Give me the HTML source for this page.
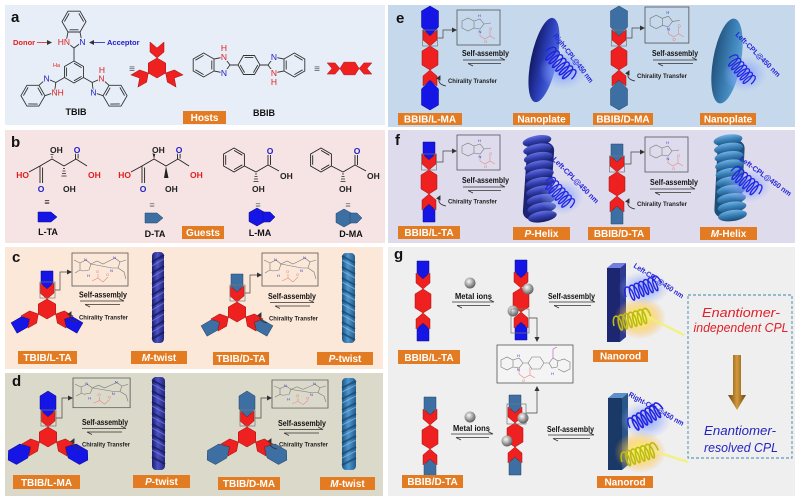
<!DOCTYPE html>
<html><head><meta charset="utf-8">
<style>
html,body{margin:0;padding:0;background:#fff;}
svg{display:block;}
text{font-family:"Liberation Sans",Arial,sans-serif;}
.lb{font-weight:bold;font-size:10px;fill:#fff;}
.sa{font-weight:bold;font-size:8px;fill:#111;}
.ct{font-weight:bold;font-size:6.4px;fill:#222;}
.cpl{font-size:7.4px;font-weight:bold;fill:#2424dc;font-style:normal;}
</style></head><body>
<svg width="800" height="497" viewBox="0 0 800 497" xmlns="http://www.w3.org/2000/svg">
<defs>
<linearGradient id="gNavy" x1="0" x2="1"><stop offset="0" stop-color="#121a66"/><stop offset=".55" stop-color="#2c40bc"/><stop offset="1" stop-color="#4d6ade"/></linearGradient>
<linearGradient id="gSteelP" x1="0" x2="1"><stop offset="0" stop-color="#22537d"/><stop offset=".6" stop-color="#3d82b8"/><stop offset="1" stop-color="#5aa0d2"/></linearGradient>
<linearGradient id="rodN" x1="0" x2="1"><stop offset="0" stop-color="#1c1f70"/><stop offset=".45" stop-color="#4c52c4"/><stop offset="1" stop-color="#22277a"/></linearGradient>
<linearGradient id="rodS" x1="0" x2="1"><stop offset="0" stop-color="#1f5683"/><stop offset=".45" stop-color="#4e97cf"/><stop offset="1" stop-color="#235d8c"/></linearGradient>
<linearGradient id="ribN" x1="0" y1="0" x2="0" y2="1"><stop offset="0" stop-color="#6872e2"/><stop offset=".45" stop-color="#3340b0"/><stop offset="1" stop-color="#141a5e"/></linearGradient>
<linearGradient id="ribS" x1="0" y1="0" x2="0" y2="1"><stop offset="0" stop-color="#74b4e4"/><stop offset=".45" stop-color="#3a82ba"/><stop offset="1" stop-color="#184a74"/></linearGradient>
<radialGradient id="glowB"><stop offset="0" stop-color="#6f8cff" stop-opacity=".85"/><stop offset=".55" stop-color="#8aa4ff" stop-opacity=".45"/><stop offset="1" stop-color="#a0b4ff" stop-opacity="0"/></radialGradient>
<radialGradient id="glowY"><stop offset="0" stop-color="#f6ff60" stop-opacity=".95"/><stop offset=".5" stop-color="#ffd040" stop-opacity=".6"/><stop offset="1" stop-color="#ffa020" stop-opacity="0"/></radialGradient>
<radialGradient id="sph" cx=".4" cy=".35" r=".65"><stop offset="0" stop-color="#fafafa"/><stop offset=".45" stop-color="#b4b4b4"/><stop offset="1" stop-color="#5e5e5e"/></radialGradient>
<linearGradient id="brown" x1="0" x2="1"><stop offset="0" stop-color="#6d4310"/><stop offset=".5" stop-color="#d29a3a"/><stop offset="1" stop-color="#6d4310"/></linearGradient>
<marker id="ah" markerWidth="5" markerHeight="5" refX="4" refY="2.5" orient="auto" markerUnits="userSpaceOnUse"><path d="M0,0 L5,2.5 L0,5 Z" fill="#333"/></marker>
<path id="coil" fill="none" d="M0,0 a4,9 0 0 1 8,0 a1.5,6 0 0 1 -3,0 a4,9 0 0 1 8,0 a1.5,6 0 0 1 -3,0 a4,9 0 0 1 8,0 a1.5,6 0 0 1 -3,0 a4,9 0 0 1 8,0 a1.5,6 0 0 1 -3,0 a4,9 0 0 1 8,0 a1.5,6 0 0 1 -3,0 a4,9 0 0 1 8,0 a1.5,6 0 0 1 -3,0 a4,9 0 0 1 8,0"/>
<polygon id="chev" points="-7,-16 0,-10 7,-16 7,-6 0,0 -7,-6"/>
<polygon id="gTA" points="-6,-28 6,-28 6,-16 0,-10 -6,-16"/>
<polygon id="gMA" points="0,-40 8.5,-35 8.5,-19 0,-10 -8.5,-19 -8.5,-35"/>
<polygon id="gMAs" points="0,-36 8,-31 8,-18 0,-10 -8,-18 -8,-31"/>
<polygon id="hexV" points="0,-12 8,-7 8,7 0,12 -8,7 -8,-7"/>
<polygon id="hexR" points="0,-10 8.7,-5 8.7,5 0,10 -8.7,5 -8.7,-5"/>
<g id="bzi" fill="none" stroke="#333" stroke-width=".9">
<path d="M0,0 L-8,-6 L-6,-16 L6,-16 L8,-6 Z M-6,-16 L-12,-26.4 L-6,-36.8 L6,-36.8 L12,-26.4 L6,-16 M-9.6,-26.4 L-4.8,-34.6 M4.8,-34.6 L9.6,-26.4 M-4.5,-18.2 L4.5,-18.2"/>
</g>
<g id="hbox">
<rect x="0" y="0" width="56" height="33" fill="none" stroke="#555" stroke-width=".8"/>
<g stroke="#777" stroke-width=".6" fill="none">
<path d="M2,7 L8,10 L8,17 L3,20 M8,10 L14,7 L19,11 L17,17 L11,18 L8,17 M19,11 L25,8 L31,11 L37,8 L43,5 L48,9 L46,15 L40,15 Z M48,9 L54,7 M46,15 L52,19 L54,26"/>
</g>
<g stroke="#e08a8a" stroke-width=".6" fill="none"><path d="M20,28 L26,25 L31,29 L36,24 M26,25 V21"/></g>
<g font-size="4" fill="#3a3ad0"><text x="12" y="8">N</text><text x="41" y="6">N</text><text x="15" y="24">H</text><text x="38" y="19">N</text></g>
<g font-size="4" fill="#e07878"><text x="34" y="23">O</text><text x="24" y="20">O</text></g>
</g>
<g id="ebox">
<rect x="0" y="0" width="43" height="35" fill="none" stroke="#555" stroke-width=".8"/>
<g stroke="#777" stroke-width=".6" fill="none"><path d="M5,11 L11,8 L17,11 L17,18 L11,21 L5,18 Z M17,11 L23,9 L27,14 L23,19 L17,18 M27,14 L34,13"/></g>
<g stroke="#e08a8a" stroke-width=".6" fill="none"><path d="M23,21 V26 L28,29 L33,26 L38,29 M33,26 V20"/></g>
<g font-size="4" fill="#3a3ad0"><text x="21" y="7">H</text><text x="21.5" y="23">N</text></g>
<g font-size="4" fill="#e07878"><text x="27" y="33">O</text><text x="32" y="20">O</text></g>
</g>
</defs>

<!-- panel backgrounds -->
<rect x="5" y="5" width="380" height="120" fill="#e7eef8"/>
<rect x="388" y="5" width="407" height="122" fill="#c6d8eb"/>
<rect x="5" y="130" width="380" height="113" fill="#f6e4e5"/>
<rect x="388" y="130" width="407" height="113" fill="#dedcec"/>
<rect x="5" y="247" width="378" height="122" fill="#fce8d9"/>
<rect x="5" y="373" width="378" height="123" fill="#dbd9c9"/>
<rect x="388" y="247" width="407" height="249" fill="#efefef"/>

<!-- panel letters -->
<g font-weight="bold" font-size="15" fill="#111">
<text x="11" y="22">a</text><text x="11" y="147">b</text><text x="12" y="262">c</text><text x="12" y="386">d</text>
<text x="396" y="23">e</text><text x="395" y="145">f</text><text x="394" y="259">g</text>
</g>

<!-- ============ PANEL A ============ -->
<g>
<path d="M74,61 L83.5,66.5 L83.5,77.5 L74,83 L64.5,77.5 L64.5,66.5 Z M74,63.2 L81.6,67.6 M81.6,76.4 L74,80.8 M66.4,76.4 L66.4,67.6 M74,61 V48 M64.5,77.5 L55.8,82.5 M83.5,77.5 L92.2,82.5" fill="none" stroke="#333" stroke-width=".9"/>
<use href="#bzi" transform="translate(74,48)"/>
<use href="#bzi" transform="translate(55.8,82.5) rotate(-120)"/>
<use href="#bzi" transform="translate(92.2,82.5) rotate(120)"/>
<g font-size="8.5" stroke="#e7eef8" stroke-width="2" paint-order="stroke">
<text x="70" y="45" text-anchor="end" fill="#e02020">HN</text>
<text x="82.5" y="45" text-anchor="middle" fill="#2020c8">N</text>
<text x="46.6" y="81.5" text-anchor="middle" fill="#2020c8">N</text>
<text x="51.5" y="95.5" fill="#e02020">NH</text>
<text x="101.4" y="81.5" text-anchor="middle" fill="#e02020">N</text>
<text x="102" y="73" text-anchor="middle" fill="#e02020">H</text>
<text x="93.4" y="95.5" text-anchor="middle" fill="#2020c8">N</text>
</g>
<text x="53" y="67" font-size="5.5" fill="#e02020">Ha</text>
<text x="13" y="45" font-size="7.5" font-weight="bold" fill="#e02020">Donor</text>
<path d="M37,42.5 H51" stroke="#e02020" stroke-width=".8" marker-end="url(#ah)"/>
<path d="M105,42.5 H90" stroke="#2020c8" stroke-width=".8" marker-end="url(#ah)"/>
<text x="107" y="45" font-size="7.5" font-weight="bold" fill="#2020c8">Acceptor</text>
<text x="76" y="115" font-size="9" font-weight="bold" text-anchor="middle" fill="#111">TBIB</text>
<text x="132" y="72" font-size="10" fill="#555" text-anchor="middle">≡</text>
<g transform="translate(157,68)" fill="#ee2020" stroke="#a01010" stroke-width=".5">
<use href="#hexR"/>
<use href="#chev" transform="translate(0,-10)"/>
<use href="#chev" transform="rotate(120) translate(0,-10)"/>
<use href="#chev" transform="rotate(-120) translate(0,-10)"/>
</g>
<!-- BBIB -->
<path d="M238,65 L243.5,55.5 L254.5,55.5 L260,65 L254.5,74.5 L243.5,74.5 Z M244.6,57.4 L253.4,57.4 M257.8,65 L253.4,72.6 M244.6,72.6 L240.2,65 M230,65 H238 M260,65 H268" fill="none" stroke="#333" stroke-width=".9"/>
<use href="#bzi" transform="translate(230,65) rotate(-90)"/>
<use href="#bzi" transform="translate(268,65) rotate(90)"/>
<g font-size="8.5" stroke="#e7eef8" stroke-width="2" paint-order="stroke" text-anchor="middle">
<text x="224" y="60" fill="#e02020">N</text>
<text x="224" y="51" fill="#e02020">H</text>
<text x="224" y="76" fill="#2020c8">N</text>
<text x="274" y="60" fill="#2020c8">N</text>
<text x="274" y="76" fill="#e02020">N</text>
<text x="274" y="85" fill="#e02020">H</text>
</g>
<text x="264" y="116" font-size="9" font-weight="bold" text-anchor="middle" fill="#111">BBIB</text>
<text x="317" y="72" font-size="10" fill="#555" text-anchor="middle">≡</text>
<g transform="translate(349.5,68.5) rotate(90) scale(.8)" fill="#ee2020" stroke="#a01010" stroke-width=".5">
<use href="#hexV"/>
<use href="#chev" transform="translate(0,-12)"/>
<use href="#chev" transform="translate(0,12) rotate(180)"/>
</g>
<rect x="183" y="111" width="43" height="13" fill="#e37b22"/><text x="204.5" y="121.2" text-anchor="middle" class="lb">Hosts</text>
</g>

<!-- ============ PANEL B ============ -->
<g id="lta">
<path d="M29,172 L40,166 L52,159 L64,166 L76,159 L87,166 M40,166 V183 M42.6,167.5 V183 M75.5,159 V150 M78.1,158.5 V150" fill="none" stroke="#222" stroke-width=".9"/>
<path d="M51,157 h2 M50.5,154.5 h3 M50,152 h4 M63,168.5 h2 M62.5,171 h3 M62,173.5 h4 M61.5,176 h5" stroke="#222" stroke-width=".8"/>
<g font-size="8.5" font-weight="bold" stroke="#f6e4e5" stroke-width="2" paint-order="stroke">
<text x="50" y="153" fill="#222">OH</text>
<text x="77" y="153" text-anchor="middle" fill="#2020c8">O</text>
<text x="29" y="178" text-anchor="end" fill="#e02020">HO</text>
<text x="88" y="178" fill="#e02020">OH</text>
<text x="41" y="192" text-anchor="middle" fill="#2020c8">O</text>
<text x="63" y="192" fill="#222">OH</text>
</g>
</g>
<g transform="translate(102,0)">
<path d="M29,172 L40,166 L52,159 L64,166 L76,159 L87,166 M40,166 V183 M42.6,167.5 V183 M75.5,159 V150 M78.1,158.5 V150" fill="none" stroke="#222" stroke-width=".9"/>
<path d="M52,159 L50,151 L54,151 Z M64,166 L62,178 L66.5,178 Z" fill="#222"/>
<g font-size="8.5" font-weight="bold" stroke="#f6e4e5" stroke-width="2" paint-order="stroke">
<text x="50" y="153" fill="#222">OH</text>
<text x="77" y="153" text-anchor="middle" fill="#2020c8">O</text>
<text x="29" y="178" text-anchor="end" fill="#e02020">HO</text>
<text x="88" y="178" fill="#e02020">OH</text>
<text x="41" y="192" text-anchor="middle" fill="#2020c8">O</text>
<text x="63" y="192" fill="#222">OH</text>
</g>
</g>
<g id="lma">
<path d="M234,148 L244.4,154 L244.4,166 L234,172 L223.6,166 L223.6,154 Z M234,150.4 L242.3,155.2 M242.3,164.8 L234,169.6 M225.7,164.8 L225.7,155.2 M244.4,166 L256,172 L268,165 L279,171 M268,165 V155 M270.5,165 V155" fill="none" stroke="#222" stroke-width=".9"/>
<path d="M255,174 h2 M254.5,176.5 h3 M254,179 h4 M253.5,181.5 h5" stroke="#222" stroke-width=".8"/>
<g font-size="8.5" font-weight="bold" stroke="#f6e4e5" stroke-width="2" paint-order="stroke">
<text x="270" y="154" text-anchor="middle" fill="#2020c8">O</text>
<text x="280" y="179" fill="#222">OH</text>
<text x="252" y="192" fill="#222">OH</text>
</g>
</g>
<g transform="translate(87,0)">
<path d="M234,148 L244.4,154 L244.4,166 L234,172 L223.6,166 L223.6,154 Z M234,150.4 L242.3,155.2 M242.3,164.8 L234,169.6 M225.7,164.8 L225.7,155.2 M244.4,166 L256,172 L268,165 L279,171 M268,165 V155 M270.5,165 V155" fill="none" stroke="#222" stroke-width=".9"/>
<path d="M255,174 h2 M254.5,176.5 h3 M254,179 h4 M253.5,181.5 h5" stroke="#222" stroke-width=".8"/>
<g font-size="8.5" font-weight="bold" stroke="#f6e4e5" stroke-width="2" paint-order="stroke">
<text x="270" y="154" text-anchor="middle" fill="#2020c8">O</text>
<text x="280" y="179" fill="#222">OH</text>
<text x="252" y="192" fill="#222">OH</text>
</g>
</g>
<g font-size="9" text-anchor="middle">
<text x="47" y="205" fill="#222">≡</text><text x="152" y="208" fill="#777">≡</text><text x="258" y="208" fill="#777">≡</text><text x="348" y="208" fill="#777">≡</text>
</g>
<polygon points="38,212 51,212 57,217 51,222 38,222" fill="#1515e6" stroke="#0a0a8a" stroke-width=".5"/>
<polygon points="145,213 157,213 163,218 157,223 145,223" fill="#3d6fa3" stroke="#22456b" stroke-width=".5"/>
<g fill="#1515e6" stroke="#0a0a8a" stroke-width=".5">
<polygon points="257,208 265,212.5 265,221.5 257,226 249,221.5 249,212.5"/>
<polygon points="263,212 270,212 275,217 270,222 263,222"/>
</g>
<g fill="#3d6fa3" stroke="#22456b" stroke-width=".5">
<polygon points="344,209 352,213.5 352,222.5 344,227 336,222.5 336,213.5"/>
<polygon points="350,213 357,213 362,218 357,223 350,223"/>
</g>
<g font-size="9" font-weight="bold" fill="#111" text-anchor="middle">
<text x="48" y="235">L-TA</text><text x="155" y="237">D-TA</text><text x="260" y="236">L-MA</text><text x="351" y="237">D-MA</text>
</g>
<rect x="182" y="226" width="42" height="13" fill="#e37b22"/><text x="203" y="236.2" text-anchor="middle" class="lb">Guests</text>

<!-- ============ PANEL C ============ -->
<g transform="translate(47,309)" stroke-width=".5">
<g fill="#1515e6" stroke="#0a0a8a">
<use href="#gTA" transform="translate(0,-10)"/><use href="#gTA" transform="rotate(120) translate(0,-10)"/><use href="#gTA" transform="rotate(-120) translate(0,-10)"/>
</g>
<g fill="#ee2020" stroke="#a01010">
<use href="#hexR"/><use href="#chev" transform="translate(0,-10)"/><use href="#chev" transform="rotate(120) translate(0,-10)"/><use href="#chev" transform="rotate(-120) translate(0,-10)"/>
</g>
</g>
<rect x="40" y="282" width="15" height="16" fill="none" stroke="#777" stroke-width=".7"/>
<path d="M55,290 H60 V272 H71" fill="none" stroke="#444" stroke-width=".7" marker-end="url(#ah)"/>
<use href="#hbox" transform="translate(72,253)"/>
<text x="79" y="297.5" class="sa" textLength="48" lengthAdjust="spacingAndGlyphs">Self-assembly</text>
<path d="M80,301 H124 M124,301 l-5,-2.5 M85,304.5 H120 M85,304.5 l5,2.5" stroke="#333" stroke-width=".8" fill="none"/>
<text x="79" y="319.5" class="ct" textLength="49" lengthAdjust="spacingAndGlyphs">Chirality Transfer</text>
<path d="M77,322 Q67,320 71,312" fill="none" stroke="#333" stroke-width=".8" marker-end="url(#ah)"/>
<g transform="translate(152,252)">
<rect width="12" height="91" rx="4" fill="url(#rodN)"/>
<path d="M0,10L12,3 M0,21L12,14 M0,32L12,25 M0,43L12,36 M0,54L12,47 M0,65L12,58 M0,76L12,69 M0,87L12,80" stroke="#161959" stroke-width="2" opacity=".75"/>
<path d="M0,14L12,7 M0,25L12,18 M0,36L12,29 M0,47L12,40 M0,58L12,51 M0,69L12,62 M0,80L12,73" stroke="#8a90f0" stroke-width="1.1" opacity=".55"/>
</g>
<rect x="18" y="351" width="59" height="13" fill="#e37b22"/><text x="47.5" y="361.2" text-anchor="middle" class="lb">TBIB/L-TA</text>
<rect x="131" y="351" width="56" height="13" fill="#e37b22"/><text x="159" y="361.2" text-anchor="middle" class="lb"><tspan font-style="italic">M</tspan>-twist</text>

<g transform="translate(237,312)" stroke-width=".5">
<g fill="#3d6fa3" stroke="#22456b">
<use href="#gTA" transform="translate(0,-10)"/><use href="#gTA" transform="rotate(120) translate(0,-10)"/><use href="#gTA" transform="rotate(-120) translate(0,-10)"/>
</g>
<g fill="#ee2020" stroke="#a01010">
<use href="#hexR"/><use href="#chev" transform="translate(0,-10)"/><use href="#chev" transform="rotate(120) translate(0,-10)"/><use href="#chev" transform="rotate(-120) translate(0,-10)"/>
</g>
</g>
<rect x="230" y="285" width="15" height="16" fill="none" stroke="#777" stroke-width=".7"/>
<path d="M245,293 H250 V275 H261" fill="none" stroke="#444" stroke-width=".7" marker-end="url(#ah)"/>
<use href="#hbox" transform="translate(262,253)"/>
<text x="268" y="299" class="sa" textLength="48" lengthAdjust="spacingAndGlyphs">Self-assembly</text>
<path d="M270,302.5 H314 M314,302.5 l-5,-2.5 M275,306 H310 M275,306 l5,2.5" stroke="#333" stroke-width=".8" fill="none"/>
<text x="269" y="320.5" class="ct" textLength="49" lengthAdjust="spacingAndGlyphs">Chirality Transfer</text>
<path d="M267,323 Q257,321 261,313" fill="none" stroke="#333" stroke-width=".8" marker-end="url(#ah)"/>
<g transform="translate(342,253)">
<rect width="13" height="90" rx="4" fill="url(#rodS)"/>
<path d="M0,3L13,10 M0,14L13,21 M0,25L13,32 M0,36L13,43 M0,47L13,54 M0,58L13,65 M0,69L13,76 M0,80L13,87" stroke="#184468" stroke-width="2" opacity=".7"/>
<path d="M0,7L13,14 M0,18L13,25 M0,29L13,36 M0,40L13,47 M0,51L13,58 M0,62L13,69 M0,73L13,80" stroke="#9ccaf0" stroke-width="1.1" opacity=".55"/>
</g>
<rect x="213" y="352" width="56" height="13" fill="#e37b22"/><text x="241" y="362.2" text-anchor="middle" class="lb">TBIB/D-TA</text>
<rect x="317" y="352" width="56" height="13" fill="#e37b22"/><text x="345" y="362.2" text-anchor="middle" class="lb"><tspan font-style="italic">P</tspan>-twist</text>

<!-- ============ PANEL D ============ -->
<g transform="translate(48,437)" stroke-width=".5">
<g fill="#1515e6" stroke="#0a0a8a">
<use href="#gMAs" transform="translate(0,-10)"/><use href="#gMAs" transform="rotate(120) translate(0,-10)"/><use href="#gMAs" transform="rotate(-120) translate(0,-10)"/>
</g>
<g fill="#ee2020" stroke="#a01010">
<use href="#hexR"/><use href="#chev" transform="translate(0,-10)"/><use href="#chev" transform="rotate(120) translate(0,-10)"/><use href="#chev" transform="rotate(-120) translate(0,-10)"/>
</g>
</g>
<rect x="41" y="410" width="15" height="16" fill="none" stroke="#777" stroke-width=".7"/>
<path d="M56,418 H62 V398 H72" fill="none" stroke="#444" stroke-width=".7" marker-end="url(#ah)"/>
<use href="#hbox" transform="translate(73,378) scale(1.02,.9)"/>
<text x="82" y="425" class="sa" textLength="46" lengthAdjust="spacingAndGlyphs">Self-assembly</text>
<path d="M82,428.5 H126 M126,428.5 l-5,-2.5 M87,432 H122 M87,432 l5,2.5" stroke="#333" stroke-width=".8" fill="none"/>
<text x="82" y="446.5" class="ct" textLength="48" lengthAdjust="spacingAndGlyphs">Chirality Transfer</text>
<path d="M80,449 Q70,447 74,439" fill="none" stroke="#333" stroke-width=".8" marker-end="url(#ah)"/>
<g transform="translate(152,377)">
<rect width="13" height="93" rx="4" fill="url(#rodN)"/>
<path d="M0,3L13,10 M0,14L13,21 M0,25L13,32 M0,36L13,43 M0,47L13,54 M0,58L13,65 M0,69L13,76 M0,80L13,87" stroke="#161959" stroke-width="2" opacity=".75"/>
<path d="M0,7L13,14 M0,18L13,25 M0,29L13,36 M0,40L13,47 M0,51L13,58 M0,62L13,69 M0,73L13,80" stroke="#8a90f0" stroke-width="1.1" opacity=".55"/>
</g>
<rect x="13" y="475" width="67" height="14" fill="#e37b22"/><text x="46.5" y="485.8" text-anchor="middle" class="lb">TBIB/L-MA</text>
<rect x="133" y="475" width="57" height="13" fill="#e37b22"/><text x="161.5" y="485.2" text-anchor="middle" class="lb"><tspan font-style="italic">P</tspan>-twist</text>

<g transform="translate(247,437)" stroke-width=".5">
<g fill="#3d6fa3" stroke="#22456b">
<use href="#gMAs" transform="translate(0,-10)"/><use href="#gMAs" transform="rotate(120) translate(0,-10)"/><use href="#gMAs" transform="rotate(-120) translate(0,-10)"/>
</g>
<g fill="#ee2020" stroke="#a01010">
<use href="#hexR"/><use href="#chev" transform="translate(0,-10)"/><use href="#chev" transform="rotate(120) translate(0,-10)"/><use href="#chev" transform="rotate(-120) translate(0,-10)"/>
</g>
</g>
<rect x="240" y="410" width="15" height="16" fill="none" stroke="#777" stroke-width=".7"/>
<path d="M255,418 H261 V398 H271" fill="none" stroke="#444" stroke-width=".7" marker-end="url(#ah)"/>
<use href="#hbox" transform="translate(272,380) scale(1,.85)"/>
<text x="278" y="426" class="sa" textLength="48" lengthAdjust="spacingAndGlyphs">Self-assembly</text>
<path d="M279,429.5 H323 M323,429.5 l-5,-2.5 M284,433 H319 M284,433 l5,2.5" stroke="#333" stroke-width=".8" fill="none"/>
<text x="279" y="446.5" class="ct" textLength="49" lengthAdjust="spacingAndGlyphs">Chirality Transfer</text>
<path d="M277,449 Q267,447 271,439" fill="none" stroke="#333" stroke-width=".8" marker-end="url(#ah)"/>
<g transform="translate(342,378)">
<rect width="14" height="92" rx="4" fill="url(#rodS)"/>
<path d="M0,10L14,3 M0,21L14,14 M0,32L14,25 M0,43L14,36 M0,54L14,47 M0,65L14,58 M0,76L14,69 M0,87L14,80" stroke="#184468" stroke-width="2" opacity=".7"/>
<path d="M0,14L14,7 M0,25L14,18 M0,36L14,29 M0,47L14,40 M0,58L14,51 M0,69L14,62 M0,80L14,73" stroke="#9ccaf0" stroke-width="1.1" opacity=".55"/>
</g>
<rect x="218" y="477" width="62" height="13" fill="#e37b22"/><text x="249" y="487.2" text-anchor="middle" class="lb">TBIB/D-MA</text>
<rect x="320" y="477" width="55" height="13" fill="#e37b22"/><text x="347.5" y="487.2" text-anchor="middle" class="lb"><tspan font-style="italic">M</tspan>-twist</text>

<!-- ============ PANEL E ============ -->
<g transform="translate(430,58)" stroke-width=".5">
<g fill="#1515e6" stroke="#0a0a8a"><use href="#gMA" transform="translate(0,-12)"/><use href="#gMA" transform="translate(0,12) rotate(180)"/></g>
<g fill="#ee2020" stroke="#a01010"><use href="#hexV"/><use href="#chev" transform="translate(0,-12)"/><use href="#chev" transform="translate(0,12) rotate(180)"/></g>
</g>
<rect x="422.5" y="30" width="15" height="16" fill="none" stroke="#777" stroke-width=".7"/>
<path d="M437.5,38 H443 V30 H456" fill="none" stroke="#444" stroke-width=".7" marker-end="url(#ah)"/>
<use href="#ebox" transform="translate(457,10)"/>
<text x="462" y="56" class="sa" textLength="47" lengthAdjust="spacingAndGlyphs">Self-assembly</text>
<path d="M463,60 H505 M505,60 l-5,-2.5 M468,63.5 H501 M468,63.5 l5,2.5" stroke="#333" stroke-width=".8" fill="none"/>
<text x="448" y="83" class="ct" textLength="49" lengthAdjust="spacingAndGlyphs">Chirality Transfer</text>
<path d="M446,86 Q436,84 440,76" fill="none" stroke="#333" stroke-width=".8" marker-end="url(#ah)"/>
<ellipse cx="544" cy="60" rx="13" ry="43" transform="rotate(12 544 60)" fill="url(#gNavy)"/>
<ellipse cx="563" cy="70" rx="24" ry="20" fill="url(#glowB)"/>
<use href="#coil" transform="translate(546,51) rotate(48)" stroke="#2222dd" stroke-width="1.4"/>
<text transform="translate(553,36) rotate(52)" class="cpl" textLength="60" lengthAdjust="spacingAndGlyphs">Right-CPL@450 nm</text>
<rect x="398" y="113" width="64" height="12" fill="#e37b22"/><text x="430" y="122.7" text-anchor="middle" class="lb">BBIB/L-MA</text>
<rect x="513" y="113" width="57" height="12" fill="#e37b22"/><text x="541.5" y="122.7" text-anchor="middle" class="lb">Nanoplate</text>

<g transform="translate(619,58)" stroke-width=".5">
<g fill="#3d6fa3" stroke="#22456b"><use href="#gMA" transform="translate(0,-12)"/><use href="#gMA" transform="translate(0,12) rotate(180)"/></g>
<g fill="#ee2020" stroke="#a01010"><use href="#hexV"/><use href="#chev" transform="translate(0,-12)"/><use href="#chev" transform="translate(0,12) rotate(180)"/></g>
</g>
<rect x="611.5" y="30" width="15" height="16" fill="none" stroke="#777" stroke-width=".7"/>
<path d="M626.5,38 H632 V28 H644" fill="none" stroke="#444" stroke-width=".7" marker-end="url(#ah)"/>
<use href="#ebox" transform="translate(645,7) scale(1.02,1.03)"/>
<text x="652" y="56" class="sa" textLength="46" lengthAdjust="spacingAndGlyphs">Self-assembly</text>
<path d="M653,60 H697 M697,60 l-5,-2.5 M658,63.5 H693 M658,63.5 l5,2.5" stroke="#333" stroke-width=".8" fill="none"/>
<text x="637" y="78" class="ct" textLength="50" lengthAdjust="spacingAndGlyphs">Chirality Transfer</text>
<path d="M635,81 Q625,79 629,71" fill="none" stroke="#333" stroke-width=".8" marker-end="url(#ah)"/>
<ellipse cx="727" cy="61" rx="14" ry="43" transform="rotate(10 727 61)" fill="url(#gSteelP)"/>
<ellipse cx="745" cy="74" rx="22" ry="18" fill="url(#glowB)"/>
<use href="#coil" transform="translate(729,58) rotate(50) scale(.9)" stroke="#2626e0" stroke-width="1.4"/>
<text transform="translate(735,35) rotate(45)" class="cpl" textLength="60" lengthAdjust="spacingAndGlyphs">Left-CPL@450 nm</text>
<rect x="593" y="113" width="60" height="12" fill="#e37b22"/><text x="623" y="122.7" text-anchor="middle" class="lb">BBIB/D-MA</text>
<rect x="700" y="113" width="56" height="12" fill="#e37b22"/><text x="728" y="122.7" text-anchor="middle" class="lb">Nanoplate</text>

<!-- ============ PANEL F ============ -->
<g transform="translate(429,182)" stroke-width=".5">
<g fill="#1515e6" stroke="#0a0a8a"><use href="#gTA" transform="translate(0,-12)"/><use href="#gTA" transform="translate(0,12) rotate(180)"/></g>
<g fill="#ee2020" stroke="#a01010"><use href="#hexV"/><use href="#chev" transform="translate(0,-12)"/><use href="#chev" transform="translate(0,12) rotate(180)"/></g>
</g>
<rect x="421.5" y="154" width="15" height="16" fill="none" stroke="#777" stroke-width=".7"/>
<path d="M436.5,162 H443 V151 H456" fill="none" stroke="#444" stroke-width=".7" marker-end="url(#ah)"/>
<use href="#ebox" transform="translate(457,135)"/>
<text x="462" y="183" class="sa" textLength="47" lengthAdjust="spacingAndGlyphs">Self-assembly</text>
<path d="M463,187 H505 M505,187 l-5,-2.5 M468,190.5 H501 M468,190.5 l5,2.5" stroke="#333" stroke-width=".8" fill="none"/>
<text x="448" y="203.5" class="ct" textLength="49" lengthAdjust="spacingAndGlyphs">Chirality Transfer</text>
<path d="M446,206 Q436,204 440,196" fill="none" stroke="#333" stroke-width=".8" marker-end="url(#ah)"/>
<rect x="525" y="142" width="27" height="78" rx="8" fill="#1c2374" transform="rotate(4 538 181)"/>
<g fill="url(#ribN)">
<ellipse cx="537" cy="141" rx="14.5" ry="5.5" transform="rotate(-10 537 141)"/>
<ellipse cx="537.6" cy="149.4" rx="14.5" ry="5.5" transform="rotate(-10 537.6 149.4)"/>
<ellipse cx="538.2" cy="157.8" rx="14.5" ry="5.5" transform="rotate(-10 538.2 157.8)"/>
<ellipse cx="538.8" cy="166.2" rx="14.5" ry="5.5" transform="rotate(-10 538.8 166.2)"/>
<ellipse cx="539.4" cy="174.6" rx="14.5" ry="5.5" transform="rotate(-10 539.4 174.6)"/>
<ellipse cx="540" cy="183" rx="14.5" ry="5.5" transform="rotate(-10 540 183)"/>
<ellipse cx="540.6" cy="191.4" rx="14.5" ry="5.5" transform="rotate(-10 540.6 191.4)"/>
<ellipse cx="541.2" cy="199.8" rx="14.5" ry="5.5" transform="rotate(-10 541.2 199.8)"/>
<ellipse cx="541.8" cy="208.2" rx="14.5" ry="5.5" transform="rotate(-10 541.8 208.2)"/>
<ellipse cx="542.4" cy="216.6" rx="14.5" ry="5.5" transform="rotate(-10 542.4 216.6)"/>
</g>
<ellipse cx="562" cy="197" rx="22" ry="18" fill="url(#glowB)"/>
<use href="#coil" transform="translate(546,181) rotate(48) scale(.95)" stroke="#2626e0" stroke-width="1.4"/>
<text transform="translate(552,160) rotate(45)" class="cpl" textLength="62" lengthAdjust="spacingAndGlyphs">Left-CPL@450 nm</text>
<rect x="398" y="226" width="62" height="13" fill="#e37b22"/><text x="429" y="236.2" text-anchor="middle" class="lb">BBIB/L-TA</text>
<rect x="513" y="227" width="57" height="13" fill="#e37b22"/><text x="541.5" y="237.2" text-anchor="middle" class="lb"><tspan font-style="italic">P</tspan>-Helix</text>

<g transform="translate(617,184)" stroke-width=".5">
<g fill="#3d6fa3" stroke="#22456b"><use href="#gTA" transform="translate(0,-12)"/><use href="#gTA" transform="translate(0,12) rotate(180)"/></g>
<g fill="#ee2020" stroke="#a01010"><use href="#hexV"/><use href="#chev" transform="translate(0,-12)"/><use href="#chev" transform="translate(0,12) rotate(180)"/></g>
</g>
<rect x="609.5" y="156" width="15" height="16" fill="none" stroke="#777" stroke-width=".7"/>
<path d="M624.5,164 H631 V152 H644" fill="none" stroke="#444" stroke-width=".7" marker-end="url(#ah)"/>
<use href="#ebox" transform="translate(645,137)"/>
<text x="650" y="185" class="sa" textLength="48" lengthAdjust="spacingAndGlyphs">Self-assembly</text>
<path d="M650,189 H695 M695,189 l-5,-2.5 M655,192.5 H691 M655,192.5 l5,2.5" stroke="#333" stroke-width=".8" fill="none"/>
<text x="637" y="206" class="ct" textLength="50" lengthAdjust="spacingAndGlyphs">Chirality Transfer</text>
<path d="M635,209 Q625,207 629,199" fill="none" stroke="#333" stroke-width=".8" marker-end="url(#ah)"/>
<rect x="716" y="140" width="27" height="78" rx="8" fill="#1c4f7a" transform="rotate(3 729 179)"/>
<g fill="url(#ribS)">
<ellipse cx="728" cy="140" rx="14.5" ry="5.5" transform="rotate(-8 728 140)"/>
<ellipse cx="728.5" cy="148.4" rx="14.5" ry="5.5" transform="rotate(-8 728.5 148.4)"/>
<ellipse cx="729" cy="156.8" rx="14.5" ry="5.5" transform="rotate(-8 729 156.8)"/>
<ellipse cx="729.5" cy="165.2" rx="14.5" ry="5.5" transform="rotate(-8 729.5 165.2)"/>
<ellipse cx="730" cy="173.6" rx="14.5" ry="5.5" transform="rotate(-8 730 173.6)"/>
<ellipse cx="730.5" cy="182" rx="14.5" ry="5.5" transform="rotate(-8 730.5 182)"/>
<ellipse cx="731" cy="190.4" rx="14.5" ry="5.5" transform="rotate(-8 731 190.4)"/>
<ellipse cx="731.5" cy="198.8" rx="14.5" ry="5.5" transform="rotate(-8 731.5 198.8)"/>
<ellipse cx="732" cy="207.2" rx="14.5" ry="5.5" transform="rotate(-8 732 207.2)"/>
<ellipse cx="732.5" cy="215.6" rx="14.5" ry="5.5" transform="rotate(-8 732.5 215.6)"/>
</g>
<ellipse cx="748" cy="186" rx="24" ry="17" fill="url(#glowB)"/>
<use href="#coil" transform="translate(731,171) rotate(40) scale(.95)" stroke="#2626e0" stroke-width="1.4"/>
<text transform="translate(739,160) rotate(36)" class="cpl" textLength="62" lengthAdjust="spacingAndGlyphs">Left-CPL@450 nm</text>
<rect x="588" y="227" width="62" height="13" fill="#e37b22"/><text x="619" y="237.2" text-anchor="middle" class="lb">BBIB/D-TA</text>
<rect x="700" y="227" width="57" height="13" fill="#e37b22"/><text x="728.5" y="237.2" text-anchor="middle" class="lb"><tspan font-style="italic">M</tspan>-Helix</text>

<!-- ============ PANEL G ============ -->
<g transform="translate(423,301)" stroke-width=".5">
<g fill="#1515e6" stroke="#0a0a8a"><use href="#gTA" transform="translate(0,-12)"/><use href="#gTA" transform="translate(0,12) rotate(180)"/></g>
<g fill="#ee2020" stroke="#a01010"><use href="#hexV"/><use href="#chev" transform="translate(0,-12)"/><use href="#chev" transform="translate(0,12) rotate(180)"/></g>
</g>
<circle cx="470" cy="283" r="5.5" fill="url(#sph)"/>
<text x="455" y="299" class="sa" textLength="37" lengthAdjust="spacingAndGlyphs">Metal ions</text>
<path d="M452,302 H494 M494,302 l-5,-2.5 M457,305.5 H490 M457,305.5 l5,2.5" stroke="#333" stroke-width=".8" fill="none"/>
<g transform="translate(521,300)" stroke-width=".5">
<g fill="#1515e6" stroke="#0a0a8a"><use href="#gTA" transform="translate(0,-12)"/><use href="#gTA" transform="translate(0,12) rotate(180)"/></g>
<g fill="#ee2020" stroke="#a01010"><use href="#hexV"/><use href="#chev" transform="translate(0,-12)"/><use href="#chev" transform="translate(0,12) rotate(180)"/></g>
</g>
<circle cx="528" cy="289" r="5.5" fill="url(#sph)"/>
<circle cx="513" cy="311" r="5.5" fill="url(#sph)"/>
<rect x="511" y="309" width="18" height="24" fill="none" stroke="#777" stroke-width=".7"/>
<path d="M529,318 H537 V341" fill="none" stroke="#444" stroke-width=".7" marker-end="url(#ah)"/>
<text x="548" y="299" class="sa" textLength="47" lengthAdjust="spacingAndGlyphs">Self-assembly</text>
<path d="M549,302 H595 M595,302 l-5,-2.5 M554,305.5 H591 M554,305.5 l5,2.5" stroke="#333" stroke-width=".8" fill="none"/>
<rect x="607" y="268" width="13" height="74" fill="#1d2670"/>
<polygon points="620,268 626,263 626,337 620,342" fill="#2e3a92"/>
<polygon points="607,268 613,263 626,263 620,268" fill="#7080e0"/>
<ellipse cx="640" cy="318" rx="26" ry="21" fill="url(#glowY)"/>
<ellipse cx="644" cy="288" rx="26" ry="17" fill="url(#glowB)"/>
<line x1="640" y1="313" x2="684" y2="335" stroke="#f2f270" stroke-width="2.5" opacity=".8"/>
<use href="#coil" transform="translate(614,326) rotate(-15)" stroke="#bcbc10" stroke-width="1.6"/>
<use href="#coil" transform="translate(626,297) rotate(-22)" stroke="#2424e0" stroke-width="1.4"/>
<text transform="translate(633,267) rotate(33)" class="cpl" textLength="58" lengthAdjust="spacingAndGlyphs">Left-CPL@450 nm</text>
<rect x="398" y="350" width="62" height="14" fill="#e37b22"/><text x="429" y="360.8" text-anchor="middle" class="lb">BBIB/L-TA</text>
<rect x="593" y="350" width="55" height="12" fill="#e37b22"/><text x="620.5" y="359.7" text-anchor="middle" class="lb">Nanorod</text>
<g transform="translate(497,345)">
<rect x="0" y="0" width="76" height="38" fill="#fff" fill-opacity=".3" stroke="#555" stroke-width=".8"/>
<g stroke="#777" stroke-width=".6" fill="none">
<path d="M4,15 L10,12 L16,15 L16,22 L10,25 L4,22 Z M16,15 L22,13 L26,18 L22,23 L16,22 M26,18 H31 M31,18 L35,12 L43,12 L47,18 L43,24 L35,24 Z M47,18 H52 M52,18 L56,13 L61,16 L60,22 L55,23 Z M61,16 L67,14 L73,17 L73,24 L67,27 L61,24"/>
</g>
<g stroke="#e08a8a" stroke-width=".6" fill="none"><path d="M22,23 V29 L27,33 L33,30 L38,33 M33,30 V25"/></g>
<path d="M56,13 V4 M56,4 L60,2" stroke="#c050c0" stroke-width=".6" fill="none"/>
<g font-size="4" fill="#3a3ad0"><text x="20" y="12">H</text><text x="54" y="30">H</text><text x="20" y="26">N</text></g>
<g font-size="4" fill="#e07878"><text x="25" y="37">O</text><text x="32" y="25">O</text></g>
</g>
<g transform="translate(430,437)" stroke-width=".5">
<g fill="#3d6fa3" stroke="#22456b"><use href="#gTA" transform="translate(0,-12)"/><use href="#gTA" transform="translate(0,12) rotate(180)"/></g>
<g fill="#ee2020" stroke="#a01010"><use href="#hexV"/><use href="#chev" transform="translate(0,-12)"/><use href="#chev" transform="translate(0,12) rotate(180)"/></g>
</g>
<circle cx="470" cy="417" r="5.5" fill="url(#sph)"/>
<text x="453" y="431" class="sa" textLength="37" lengthAdjust="spacingAndGlyphs">Metal ions</text>
<path d="M451,434 H493 M493,434 l-5,-2.5 M456,437.5 H489 M456,437.5 l5,2.5" stroke="#333" stroke-width=".8" fill="none"/>
<g transform="translate(515,435)" stroke-width=".5">
<g fill="#3d6fa3" stroke="#22456b"><use href="#gTA" transform="translate(0,-12)"/><use href="#gTA" transform="translate(0,12) rotate(180)"/></g>
<g fill="#ee2020" stroke="#a01010"><use href="#hexV"/><use href="#chev" transform="translate(0,-12)"/><use href="#chev" transform="translate(0,12) rotate(180)"/></g>
</g>
<circle cx="523" cy="418" r="5.5" fill="url(#sph)"/>
<circle cx="507" cy="441" r="5.5" fill="url(#sph)"/>
<rect x="507" y="404" width="19" height="20" fill="none" stroke="#777" stroke-width=".7"/>
<path d="M526,413 H537 V387" fill="none" stroke="#444" stroke-width=".7" marker-end="url(#ah)"/>
<text x="547" y="432" class="sa" textLength="47" lengthAdjust="spacingAndGlyphs">Self-assembly</text>
<path d="M548,435 H594 M594,435 l-5,-2.5 M553,438.5 H590 M553,438.5 l5,2.5" stroke="#333" stroke-width=".8" fill="none"/>
<rect x="608" y="398" width="14" height="72" fill="#1b3966"/>
<polygon points="622,398 628,393 628,465 622,470" fill="#2a5588"/>
<polygon points="608,398 614,393 628,393 622,398" fill="#5c8fcc"/>
<ellipse cx="640" cy="452" rx="26" ry="21" fill="url(#glowY)"/>
<ellipse cx="646" cy="420" rx="26" ry="19" fill="url(#glowB)"/>
<line x1="650" y1="450" x2="688" y2="462" stroke="#f2f270" stroke-width="2.5" opacity=".8"/>
<use href="#coil" transform="translate(622,462) rotate(-18)" stroke="#bcbc10" stroke-width="1.6"/>
<use href="#coil" transform="translate(630,428) rotate(-30)" stroke="#2424e0" stroke-width="1.6"/>
<text transform="translate(628,396) rotate(29)" class="cpl" textLength="62" lengthAdjust="spacingAndGlyphs">Right-CPL@450 nm</text>
<rect x="402" y="475" width="61" height="13" fill="#e37b22"/><text x="432.5" y="485.2" text-anchor="middle" class="lb">BBIB/D-TA</text>
<rect x="597" y="476" width="56" height="12" fill="#e37b22"/><text x="625" y="485.7" text-anchor="middle" class="lb">Nanorod</text>
<rect x="688" y="295" width="104" height="163" fill="none" stroke="#3a86a8" stroke-width=".9" stroke-dasharray="3,2"/>
<g font-style="italic" font-size="13" text-anchor="middle">
<text x="741" y="317" fill="#e0202a" textLength="78" lengthAdjust="spacingAndGlyphs">Enantiomer-</text>
<text x="741" y="332" fill="#e0202a" textLength="95" lengthAdjust="spacingAndGlyphs">independent CPL</text>
<text x="740" y="435" fill="#2424c0" textLength="72" lengthAdjust="spacingAndGlyphs">Enantiomer-</text>
<text x="741" y="452" fill="#2424c0" textLength="74" lengthAdjust="spacingAndGlyphs">resolved CPL</text>
</g>
<polygon points="733,355 741,355 741,395 746,395 737,410 728,395 733,395" fill="url(#brown)"/>
</svg>
</body></html>
